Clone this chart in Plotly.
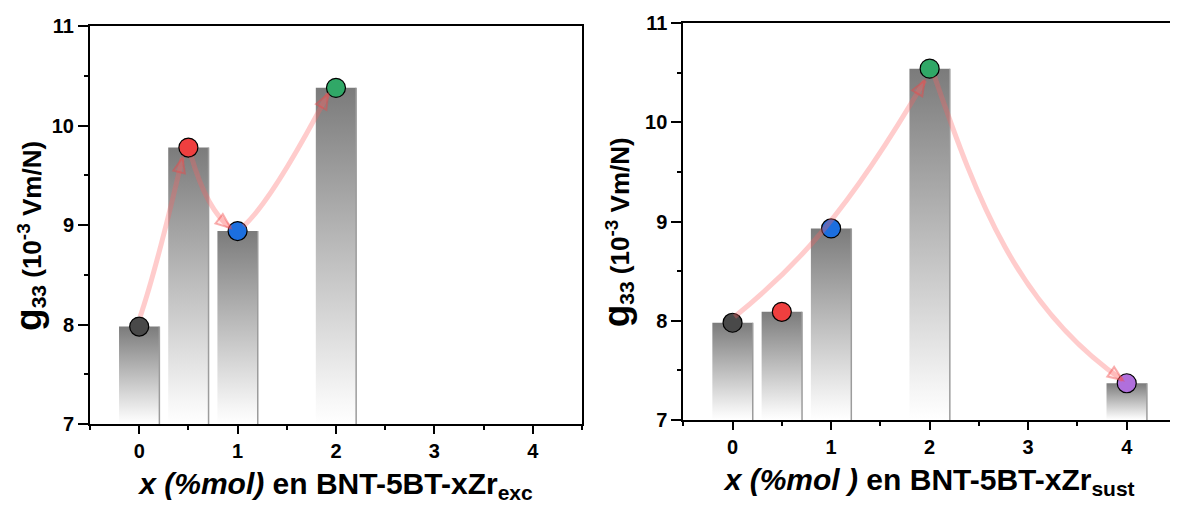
import math
import plotly.graph_objects as go

# ---------------- data ----------------
x_exc = [0, 0.5, 1, 2]
g33_exc = [7.98, 9.78, 8.94, 10.38]
colors_exc = ["#494949", "#ef3f3f", "#1c6fdf", "#30a867"]

x_sust = [0, 0.5, 1, 2, 4]
g33_sust = [7.98, 8.09, 8.93, 10.54, 7.37]
colors_sust = ["#494949", "#ef3f3f", "#1c6fdf", "#30a867", "#b06fdc"]

x_tickvals = [0, 1, 2, 3, 4]
y_tickvals = [7, 8, 9, 10, 11]

xtitle_exc = "<i>x (%mol)</i> en BNT-5BT-xZr<sub>exc</sub>"
xtitle_sust = "<i>x (%mol )</i> en BNT-5BT-xZr<sub>sust</sub>"
ytitle = ("<span style='font-size:37px'>g</span><sub><span style='font-size:21px'>33</span></sub>"
          " (10<sup><span style='font-size:19px'>-3</span></sup> Vm/N)&nbsp;&nbsp;&nbsp;")

# arrows: (from index, to index, start offset, end offset, ctrl1 offset from start, ctrl2 offset from end)
arrows_exc = [
    (0, 1, (0.01, 0.10), (-0.06, -0.10), (0.12, 0.35), (-0.17, -0.72)),
    (1, 2, (0.03, -0.09), (-0.07, 0.03), (0.10, -0.34), (-0.17, 0.13)),
    (2, 3, (0.06, 0.05), (-0.08, -0.06), (0.17, 0.15), (-0.40, -0.75)),
]
arrows_sust = [
    (0, 3, (0.02, 0.06), (-0.05, -0.12), (0.60, 0.48), (-0.80, -1.36)),
    (3, 4, (0.05, -0.08), (-0.04, 0.03), (0.43, -1.235), (-1.066, 0.728)),
]

FONT = "Liberation Sans, Arial, sans-serif"
BAR_W = 0.41
BASE = 7
ARROW_COLOR = "rgba(255, 95, 95, 0.32)"
HEAD_COLOR = "rgba(240, 70, 70, 0.42)"
HEAD_LEN = 0.15
HEAD_HALF = 0.06

fig = go.Figure()


def add_panel(xs, ys, cols, xa, ya):
    for xi, yi in zip(xs, ys):
        fig.add_trace(go.Scatter(
            x=[xi - BAR_W / 2, xi + BAR_W / 2, xi + BAR_W / 2, xi - BAR_W / 2, xi - BAR_W / 2],
            y=[BASE, BASE, yi, yi, BASE],
            fill="toself", mode="lines", line=dict(width=0),
            fillgradient=dict(type="vertical",
                              colorscale=[[0, "#ffffff"], [0.08, "#f6f6f6"], [1, "#7b7b7b"]]),
            hoverinfo="skip", showlegend=False, xaxis=xa, yaxis=ya))
    ex, ey = [], []
    for xi, yi in zip(xs, ys):
        ex += [xi + BAR_W / 2, xi + BAR_W / 2, None]
        ey += [BASE, yi, None]
    fig.add_trace(go.Scatter(x=ex, y=ey, mode="lines",
                             line=dict(color="#9c9c9c", width=1.5),
                             hoverinfo="skip", showlegend=False, xaxis=xa, yaxis=ya))
    fig.add_trace(go.Scatter(x=xs, y=ys, mode="markers",
                             marker=dict(size=19, color=cols, line=dict(color="black", width=1.2)),
                             cliponaxis=False, showlegend=False, xaxis=xa, yaxis=ya))


def bez(p0, c1, c2, p3, t):
    return tuple((1 - t) ** 3 * a + 3 * (1 - t) ** 2 * t * b + 3 * (1 - t) * t ** 2 * c + t ** 3 * d
                 for a, b, c, d in zip(p0, c1, c2, p3))


def add_arrows(xs, ys, arrows, xref, yref):
    for i, j, so, eo, c1o, c2o in arrows:
        p0 = (xs[i] + so[0], ys[i] + so[1])
        p3 = (xs[j] + eo[0], ys[j] + eo[1])
        c1 = (p0[0] + c1o[0], p0[1] + c1o[1])
        c2 = (p3[0] + c2o[0], p3[1] + c2o[1])
        path = f"M {p0[0]},{p0[1]} C {c1[0]},{c1[1]} {c2[0]},{c2[1]} {p3[0]},{p3[1]}"
        fig.add_shape(type="path", path=path, xref=xref, yref=yref,
                      line=dict(color=ARROW_COLOR, width=5), layer="above")
        q = bez(p0, c1, c2, p3, 0.97)
        dx, dy = p3[0] - q[0], p3[1] - q[1]
        n = math.hypot(dx, dy)
        ux, uy = dx / n, dy / n
        bx, by = p3[0] - HEAD_LEN * ux, p3[1] - HEAD_LEN * uy
        l = (bx - HEAD_HALF * uy, by + HEAD_HALF * ux)
        r = (bx + HEAD_HALF * uy, by - HEAD_HALF * ux)
        tri = f"M {p3[0]},{p3[1]} L {l[0]},{l[1]} L {r[0]},{r[1]} Z"
        fig.add_shape(type="path", path=tri, xref=xref, yref=yref,
                      line=dict(color=HEAD_COLOR, width=2), fillcolor="rgba(255, 95, 95, 0.15)",
                      layer="above")


add_panel(x_exc, g33_exc, colors_exc, "x", "y")
add_panel(x_sust, g33_sust, colors_sust, "x2", "y2")
add_arrows(x_exc, g33_exc, arrows_exc, "x", "y")
add_arrows(x_sust, g33_sust, arrows_sust, "x2", "y2")

common = dict(showline=True, linecolor="black", linewidth=2, mirror=True,
              ticks="outside", tickwidth=2, tickcolor="black",
              showgrid=False, zeroline=False, automargin=False,
              tickfont=dict(family=FONT, size=20, color="black", weight="bold"))

xcommon = dict(common, range=[-0.5, 4.5], tickmode="array", tickvals=x_tickvals,
               ticktext=[f"<b>{v}</b>" for v in x_tickvals], ticklen=8,
               minor=dict(tick0=0, dtick=0.5, ticks="outside", ticklen=4, tickwidth=1.5,
                          tickcolor="black", showgrid=False))
ycommon = dict(common, range=[7, 11], tickmode="array", tickvals=y_tickvals,
               ticktext=[f"<b>{v}</b>" for v in y_tickvals], ticklen=10,
               minor=dict(tick0=7, dtick=0.5, ticks="outside", ticklen=4, tickwidth=1.5,
                          tickcolor="black", showgrid=False))

xt_font = dict(family=FONT, size=30, color="black", weight="bold")
yt_font = dict(family=FONT, size=26, color="black", weight="bold")

# the page body adds an 8 px offset, so the figure is 8 px smaller and margins shifted
fig.update_layout(
    width=1170, height=497,
    margin=dict(l=82, r=2, t=15, b=81, autoexpand=False),
    paper_bgcolor="white", plot_bgcolor="white",
    showlegend=False,
    xaxis=dict(xcommon, domain=[0, 0.453], anchor="y",
               title=dict(text=xtitle_exc, font=xt_font, standoff=12)),
    yaxis=dict(ycommon, domain=[0, 0.992], anchor="x",
               title=dict(text=ytitle, font=yt_font, standoff=8)),
    xaxis2=dict(xcommon, domain=[0.5463, 1], anchor="y2",
                title=dict(text=xtitle_sust, font=xt_font, standoff=12)),
    yaxis2=dict(ycommon, domain=[0.01, 1], anchor="x2",
                title=dict(text=ytitle, font=yt_font, standoff=8)),
)

fig.write_html("out.html")
